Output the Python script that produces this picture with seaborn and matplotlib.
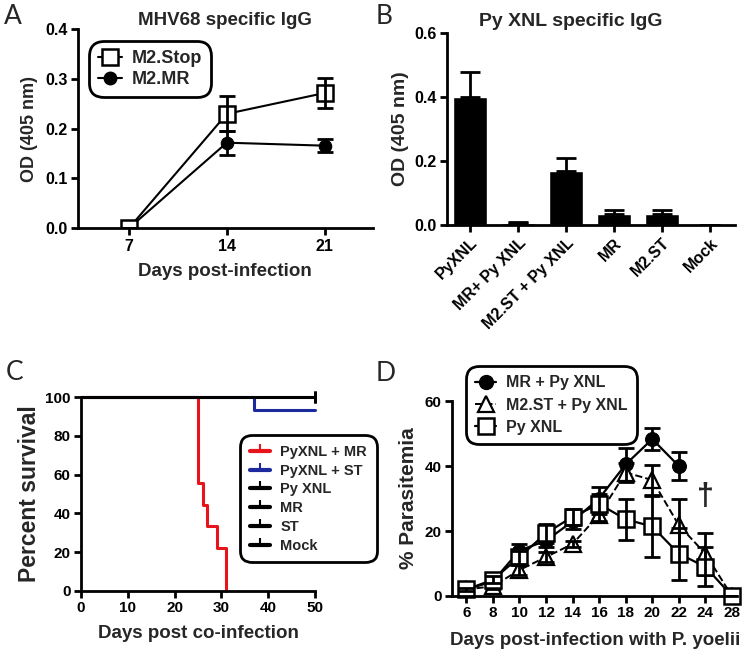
import matplotlib
matplotlib.use('Agg')
import matplotlib.pyplot as plt
from matplotlib.lines import Line2D
import seaborn as sns
import numpy as np
import pandas as pd

# Panel A data: MHV68 specific IgG
a_days = [7, 14, 21]
a_stop = [0.0, 0.230, 0.272]
a_stop_err = [0.0, 0.035, 0.030]
a_mr = [0.0, 0.172, 0.166]
a_mr_err = [0.0, 0.024, 0.013]

# Panel B data: Py XNL specific IgG
b_groups = ['PyXNL', 'MR+ Py XNL', 'M2.ST + Py XNL', 'MR', 'M2.ST', 'Mock']
b_od = [0.40, 0.007, 0.168, 0.035, 0.035, 0.0]
b_err = [0.080, 0.003, 0.042, 0.012, 0.013, 0.0]

# Panel C data: survival curves (step times / percent)
c_red_t = [0, 25, 26, 27, 29, 31]
c_red_s = [100, 55.6, 44.4, 33.3, 22.2, 0]
c_blue_t = [0, 37, 50]
c_blue_s = [100, 93.3, 93.3]
c_black_t = [0, 50]
c_black_s = [100, 100]
c_labels = ['PyXNL + MR', 'PyXNL + ST', 'Py XNL', 'MR', 'ST', 'Mock']
c_colors = ['#e8141b', '#1c2a9e', 'black', 'black', 'black', 'black']

# Panel D data: parasitemia
d_days = ['6', '8', '10', '12', '14', '16', '18', '20', '22', '24', '28']
d_mr = [2, 4.5, 14, 17, 23, 30, 40.5, 48.3, 40, np.nan, np.nan]
d_mr_err = [0.5, 0.8, 2, 2, 2.5, 3.5, 5, 3.3, 4.2, np.nan, np.nan]
d_st = [2, 3, 8, 12, 16, 25, 38, 35.7, 21.8, 13, 0]
d_st_err = [0.5, 0.8, 1.5, 1.5, 1, 2, 3, 4.6, 8, 6.4, 0]
d_py = [2, 5, 12, 19.3, 24.4, 28.3, 23.6, 21.4, 13, 9, 0]
d_py_err = [0.5, 1, 2, 3, 2.5, 3, 6.4, 9.5, 8, 6, 0]

sns.set_style('ticks')
plt.rcParams['font.family'] = ['Liberation Sans', 'DejaVu Sans']
plt.rcParams['font.weight'] = 'bold'
plt.rcParams['axes.labelweight'] = 'bold'
plt.rcParams['axes.linewidth'] = 2
plt.rcParams['xtick.major.width'] = 2
plt.rcParams['ytick.major.width'] = 2
plt.rcParams['xtick.major.size'] = 5
plt.rcParams['ytick.major.size'] = 5

fig = plt.figure(figsize=(7.5, 6.52), dpi=100)


def style_axes(ax, tsize):
    sns.despine(ax=ax)
    ax.tick_params(colors='black', direction='out', pad=2.5, labelsize=tsize)
    for s in ax.spines.values():
        s.set_color('black')


def legend_frame(leg):
    fr = leg.get_frame()
    fr.set_edgecolor('black')
    fr.set_linewidth(2)
    fr.set_boxstyle('round,pad=0.2,rounding_size=0.8')


# ---------- Panel A ----------
axA = fig.add_axes([0.104, 0.650, 0.393, 0.305])
sns.lineplot(x=a_days, y=a_mr, ax=axA, color='black', lw=1.5, marker='o',
             markersize=9, markerfacecolor='black', markeredgecolor='black')
axA.errorbar(a_days, a_mr, yerr=a_mr_err, fmt='none', ecolor='black',
             elinewidth=2, capsize=6, capthick=2)
sns.lineplot(x=a_days, y=a_stop, ax=axA, color='black', lw=1.5, marker='s',
             markersize=11, markerfacecolor='white', markeredgecolor='black',
             markeredgewidth=1.8)
axA.errorbar(a_days, a_stop, yerr=a_stop_err, fmt='none', ecolor='black',
             elinewidth=2, capsize=6, capthick=2)
axA.set_xlim(3.36, 24.43)
axA.set_ylim(0, 0.4)
axA.set_xticks(a_days)
axA.set_yticks([0.0, 0.1, 0.2, 0.3, 0.4])
axA.set_yticklabels(['0.0', '0.1', '0.2', '0.3', '0.4'])
axA.set_xlabel('Days post-infection', fontsize=13.5, labelpad=7)
axA.set_ylabel('OD (405 nm)', fontsize=13, labelpad=5)
axA.set_title('MHV68 specific IgG', fontsize=13.5, fontweight='bold', pad=3)
style_axes(axA, 11.5)
hA = [Line2D([], [], color='black', lw=1.5, marker='s', markersize=11,
             markerfacecolor='white', markeredgewidth=1.8),
      Line2D([], [], color='black', lw=1.5, marker='o', markersize=9)]
legA = axA.legend(hA, ['M2.Stop', 'M2.MR'], loc='upper left',
                  bbox_to_anchor=(84 / 750, 1 - 36 / 652),
                  bbox_transform=fig.transFigure, prop={'size': 13, 'weight': 'bold'},
                  handlelength=1.3, handletextpad=0.55, borderpad=0.3,
                  labelspacing=0.2, framealpha=1, fancybox=True)
legend_frame(legA)

# ---------- Panel B ----------
axB = fig.add_axes([0.596, 0.655, 0.384, 0.294])
dfB = pd.DataFrame({'group': b_groups, 'od': b_od})
sns.barplot(data=dfB, x='group', y='od', color='black', width=0.69,
            saturation=1, ax=axB)
axB.errorbar(range(len(b_groups)), b_od, yerr=[np.zeros(len(b_err)), b_err],
             fmt='none', ecolor='black', elinewidth=2, capsize=7, capthick=2)
axB.set_xlim(-0.48, 5.52)
axB.set_ylim(0, 0.6)
axB.set_yticks([0.0, 0.2, 0.4, 0.6])
axB.set_yticklabels(['0.0', '0.2', '0.4', '0.6'])
axB.set_xticks(range(len(b_groups)))
style_axes(axB, 11.5)
axB.set_xticklabels(b_groups, rotation=45, ha='right', rotation_mode='anchor',
                    fontsize=11.5, fontweight='bold')
axB.set_xlabel('')
axB.set_ylabel('OD (405 nm)', fontsize=14, labelpad=4)
axB.text(0.43, 1.015, 'Py XNL specific IgG', transform=axB.transAxes,
         fontsize=14, fontweight='bold', ha='center', va='bottom')

# ---------- Panel C ----------
axC = fig.add_axes([0.108, 0.0936, 0.312, 0.2975])
sns.lineplot(x=c_red_t, y=c_red_s, ax=axC, color=c_colors[0], lw=2.2,
             drawstyle='steps-post', clip_on=False)
sns.lineplot(x=c_blue_t, y=c_blue_s, ax=axC, color=c_colors[1], lw=2.2,
             drawstyle='steps-post', clip_on=False)
sns.lineplot(x=c_black_t, y=c_black_s, ax=axC, color='black', lw=2.2,
             drawstyle='steps-post', clip_on=False)
axC.plot([50, 50], [100, 100], ls='none', marker='|', color='black',
         markersize=8, markeredgewidth=2, clip_on=False)
axC.set_xlim(0, 50)
axC.set_ylim(0, 100)
axC.set_xticks([0, 10, 20, 30, 40, 50])
axC.set_yticks([0, 20, 40, 60, 80, 100])
axC.set_xlabel('Days post co-infection', fontsize=13.5, labelpad=7)
axC.set_ylabel('Percent survival', fontsize=16.5, labelpad=3)
style_axes(axC, 11)
hC = [Line2D([], [], color=c, lw=3, marker=2, markersize=5,
             markeredgewidth=1.5) for c in c_colors]
legC = axC.legend(hC, c_labels, loc='upper left',
                  bbox_to_anchor=(236 / 750, 1 - 431 / 652),
                  bbox_transform=fig.transFigure, prop={'size': 10.5, 'weight': 'bold'},
                  handlelength=1.4, handletextpad=0.7, borderpad=0.45,
                  labelspacing=0.33, framealpha=1, fancybox=True)
legend_frame(legC)

# ---------- Panel D ----------
axD = fig.add_axes([0.603, 0.0859, 0.38, 0.299])
xpos = np.arange(len(d_days))
sns.lineplot(x=xpos, y=d_mr, ax=axD, color='black', lw=1.6, marker='o',
             markersize=10, markerfacecolor='black', markeredgecolor='black')
axD.errorbar(xpos, d_mr, yerr=d_mr_err, fmt='none', ecolor='black',
             elinewidth=2, capsize=6, capthick=2)
sns.lineplot(x=xpos, y=d_st, ax=axD, color='black', lw=1.4, linestyle='--',
             marker='^', markersize=11, markerfacecolor='white',
             markeredgecolor='black', markeredgewidth=1.6)
axD.errorbar(xpos, d_st, yerr=d_st_err, fmt='none', ecolor='black',
             elinewidth=2, capsize=6, capthick=2)
sns.lineplot(x=xpos, y=d_py, ax=axD, color='black', lw=1.6, marker='s',
             markersize=11, markerfacecolor='white', markeredgecolor='black',
             markeredgewidth=1.8, clip_on=False)
axD.errorbar(xpos, d_py, yerr=d_py_err, fmt='none', ecolor='black',
             elinewidth=2, capsize=6, capthick=2)
axD.text(9, 30.5, '\u2020', fontsize=22, ha='center', va='center',
         fontweight='bold')
axD.set_xlim(-0.53, 10.2)
axD.set_ylim(0, 60)
axD.set_xticks(xpos)
axD.set_xticklabels(d_days)
axD.set_yticks([0, 20, 40, 60])
axD.set_xlabel('Days post-infection with P. yoelii', fontsize=13.5, labelpad=8)
axD.set_ylabel('% Parasitemia', fontsize=15, labelpad=5)
style_axes(axD, 11)
hD = [Line2D([], [], color='black', lw=1.6, marker='o', markersize=10),
      Line2D([], [], color='black', lw=1.4, ls='--', marker='^', markersize=11,
             markerfacecolor='white', markeredgewidth=1.6),
      Line2D([], [], color='black', lw=1.6, marker='s', markersize=11,
             markerfacecolor='white', markeredgewidth=1.8)]
legD = axD.legend(hD, ['MR + Py XNL', 'M2.ST + Py XNL', 'Py XNL'],
                  loc='upper left', bbox_to_anchor=(461 / 750, 1 - 361 / 652),
                  bbox_transform=fig.transFigure, prop={'size': 11.5, 'weight': 'bold'},
                  handlelength=1.3, handletextpad=0.6, borderpad=0.4,
                  labelspacing=0.45, framealpha=1, fancybox=True)
legend_frame(legD)

# panel letters
for lab, x, y in [('A', 4, 4), ('B', 376, 4), ('C', 6, 360), ('D', 376, 361)]:
    fig.text(x / 750, 1 - y / 652, lab, fontsize=19, fontweight='normal',
             family=['Lato', 'DejaVu Sans'], ha='left', va='top')

fig.savefig('out.png', dpi=100)
